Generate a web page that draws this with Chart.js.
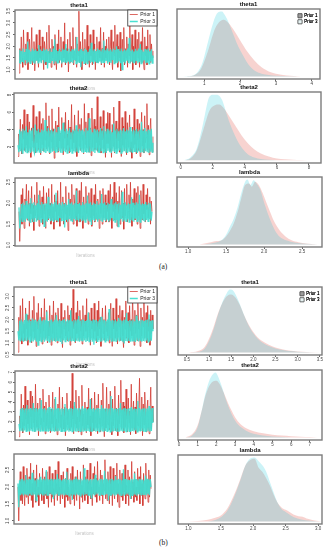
<!DOCTYPE html>
<html>
<head>
<meta charset="utf-8">
<script src="https://cdn.jsdelivr.net/npm/chart.js@4.4.0/dist/chart.umd.min.js"></script>
<style>
html, body { margin: 0; padding: 0; background: #fff; }
#fig { position: relative; width: 327px; height: 550px; overflow: hidden; }
#fig canvas { position: absolute; }
.cap { position: absolute; font: 7.5px "Liberation Serif", serif; color: #222; }
</style>
</head>
<body>
<div id="fig">
	<div class="cap" style="left:159px;top:262px">(a)</div>
	<div class="cap" style="left:159px;top:538px">(b)</div>
</div>
<script>
// ---- trace values (a) ----
const aTheta1P1 = [0.85,1.9,1.3,2.4,1.5,1.1,2.7,1.6,1.2,2.1,1.4,2.6,1.0,1.8,2.3,1.3,1.7,2.8,1.2,1.5,2.2,0.95,1.6,2.5,1.4,1.9,1.1,2.7,1.5,2.0,1.3,2.4,1.6,1.0,2.2,1.8,1.2,2.6,1.4,1.7,
	2.9,1.3,1.9,1.1,2.3,1.5,2.0,1.2,2.5,1.6,1.0,2.1,1.4,2.7,1.3,1.8,2.4,1.1,1.6,2.2,1.5,3.0,1.2,1.9,1.4,2.3,0.9,1.7,2.6,1.3,2.0,1.5,2.8,1.2,1.8,1.4,2.4,1.1,2.1,1.6,
	3.5,1.3,2.2,1.5,1.0,2.6,1.4,1.9,2.3,1.2,1.7,2.9,1.3,2.0,1.1,2.5,1.6,1.9,1.2,2.7,1.4,2.1,1.0,1.8,2.4,1.3,1.6,2.2,1.5,2.8,1.2,1.9,1.4,2.6,1.1,2.0,1.5,2.3,1.3,1.7,
	2.4,1.2,1.9,2.7,1.4,1.0,2.2,1.6,2.9,1.3,1.8,2.5,1.1,2.0,1.5,2.6,0.95,1.7,2.3,1.4,
	2.8,1.2,1.9,1.5,2.4,1.1,2.1,1.6,3.1,1.3,1.8,2.5,1.0,2.0,1.4,2.7,1.2,1.7,2.3,1.5,
	2.6,1.1,1.9,2.2,1.3,2.8,1.5,1.0,2.4,1.6,2.0,1.2,2.7,1.4,1.8,2.5,1.3,2.1,1.5,1.8];
const aTheta1P3 = [1.3,1.85,1.25,1.8,1.35,1.9,1.28,1.75,1.4,1.88,1.26,2.2,1.32,1.85,1.27,1.78,1.36,1.9,1.3,1.82,
	1.25,1.87,1.38,1.8,1.29,2.05,1.34,1.86,1.27,1.79,1.4,1.9,1.26,1.83,1.33,1.88,1.05,1.8,1.31,1.89,
	1.28,1.76,1.37,1.9,1.25,2.3,1.35,1.84,1.29,1.8,1.27,1.88,1.39,1.77,1.26,1.9,1.32,1.85,1.3,2.1,
	1.27,1.81,1.36,1.89,1.25,1.78,1.33,1.87,1.28,1.83,1.4,1.9,1.26,2.4,1.31,1.8,1.29,1.86,1.1,1.88,
	1.35,1.79,1.27,1.9,1.3,1.84,1.26,1.76,1.38,1.89,1.28,2.15,1.33,1.82,1.25,1.87,1.36,1.8,1.29,1.9,
	1.27,1.85,1.34,1.78,1.26,1.88,1.31,2.25,1.28,1.83,1.37,1.9,1.25,1.8,1.32,1.86,1.29,1.77,1.4,1.89,
	1.26,1.84,1.3,2.0,1.27,1.88,1.35,1.81,1.28,1.9,1.0,1.79,1.33,1.87,1.26,1.83,1.38,1.9,1.29,2.35,
	1.25,1.8,1.34,1.86,1.3,1.78,1.27,1.89,1.36,1.82,1.28,1.9,1.32,2.1,1.26,1.85,1.31,1.77,1.39,1.88,
	1.27,1.84,1.3,1.9,1.25,1.79,1.35,1.87,1.28,1.6];
const aTheta2P1 = [0.9,3.5,1.8,5.2,2.4,1.2,4.6,2.9,6.3,1.6,3.8,2.2,5.8,1.4,3.1,4.9,2.0,0.8,4.2,2.7,6.8,1.9,3.4,1.3,5.5,2.5,4.0,1.7,6.1,3.0,1.1,4.7,2.3,5.3,1.5,3.7,2.8,7.1,1.8,4.4,
	2.1,5.6,1.2,3.9,2.6,6.4,1.6,4.1,0.7,3.3,5.0,2.0,4.5,1.4,6.6,2.7,3.6,1.9,5.4,2.4,1.1,4.8,3.0,6.0,1.7,3.5,2.2,5.1,1.3,4.3,
	2.9,6.9,1.8,3.8,2.5,5.7,1.5,4.0,0.9,3.2,6.2,2.1,4.6,1.6,5.3,2.8,3.4,1.2,7.0,2.3,4.9,1.9,3.7,5.9,1.4,2.6,4.2,1.0,6.5,2.0,
	3.3,5.2,1.7,4.4,2.5,7.8,1.5,3.9,2.2,5.5,1.3,4.1,2.8,6.2,1.8,3.6,0.8,4.7,2.4,6.0,
	2.4,5.9,1.5,3.8,0.8,4.6,2.1,6.6,1.3,3.2,5.0,1.8,4.1,2.7,7.3,1.4,3.6,0.9,5.4,2.2,
	4.4,1.6,6.1,2.9,1.1,4.8,2.0,3.5,5.7,1.4,2.6,0.7,4.3,1.9,6.4,2.3,3.9,1.2,5.2,2.8,
	1.6,4.7,0.9,3.4,6.0,2.1,4.0,1.3,5.6,2.5,3.1,7.0,1.7,4.5,1.1,3.7,5.3,2.0,1.4,3.2];
const aTheta2P3 = [2.2,1.4,4.0,1.5,3.8,1.3,4.1,1.6,3.9,1.4,4.4,1.35,3.7,1.5,4.0,1.3,3.9,1.45,4.2,1.6,
	1.3,4.6,1.4,3.9,1.5,4.1,1.35,3.7,1.3,4.0,1.55,3.9,1.4,5.1,1.3,3.8,1.5,4.2,1.4,3.9,
	1.3,4.0,1.45,3.8,1.6,4.1,1.3,3.7,1.4,4.3,1.5,3.9,1.35,4.0,1.3,4.8,1.5,3.8,1.4,4.1,
	1.3,3.9,1.55,4.2,1.4,3.7,1.3,4.0,1.5,3.9,1.35,4.5,1.45,3.8,1.3,4.1,1.6,3.9,1.4,4.0,
	1.3,3.8,1.5,4.2,1.35,3.9,1.4,5.3,1.3,4.0,1.5,3.7,1.45,4.1,1.3,3.9,1.6,4.0,1.4,3.8,
	1.3,4.2,1.5,3.9,1.35,4.4,1.4,3.8,1.3,4.1,1.55,3.9,1.4,4.0,1.3,3.7,1.5,4.7,1.4,3.9,
	1.3,4.1,1.45,3.8,1.6,4.0,1.3,3.9,1.4,4.2,1.5,3.8,1.35,4.0,1.3,3.9,1.45,4.3,1.4,3.8,
	1.3,4.0,1.5,3.9,1.4,4.1,1.3,3.8,1.55,4.0,1.35,4.9,1.4,3.9,1.3,4.2,1.5,3.8,1.4,4.0,
	1.3,3.9,1.45,4.1,1.4,2.5];
const aLambdaP1 = [1.8,1.09,1.6,2.2,1.5,2.35,1.7,1.4,2.1,1.9,2.45,1.6,1.8,2.3,1.45,2.0,1.75,2.4,1.55,1.95,1.35,2.2,1.7,1.85,2.5,1.6,2.05,1.45,2.3,1.8,1.65,2.15,1.5,2.4,1.75,1.95,1.4,2.25,1.85,1.6,
	2.35,1.7,2.0,1.5,2.45,1.65,1.9,1.38,2.2,1.8,2.05,1.55,2.3,1.7,1.95,1.45,2.5,1.6,1.85,2.15,1.5,2.0,1.75,2.4,1.55,1.9,1.35,2.25,1.7,2.1,
	1.6,2.45,1.8,1.5,2.2,1.95,1.65,2.35,1.45,2.0,1.75,2.3,1.55,1.85,2.5,1.7,1.4,2.15,1.9,1.6,2.4,1.75,2.05,1.5,2.25,1.8,1.65,2.35,1.45,1.95,
	1.7,2.2,1.55,2.45,1.8,1.6,2.1,1.9,1.4,2.3,1.75,2.0,1.5,2.35,1.65,1.85,2.2,1.55,2.0,1.8,
	2.3,1.55,1.95,2.45,1.65,1.4,2.15,1.8,2.5,1.6,1.9,2.25,1.45,2.05,1.75,2.4,1.5,1.85,2.3,1.65,
	2.0,1.38,2.35,1.7,1.95,2.45,1.55,1.8,2.2,1.6,2.5,1.75,1.45,2.1,1.9,2.35,1.6,1.85,2.25,1.5,
	2.4,1.7,2.0,1.4,2.3,1.8,1.6,2.45,1.75,1.95,1.55,2.2,1.85,2.35,1.65,1.9,2.15,1.5,2.05,1.8];
const aLambdaP3 = [1.9,1.4,1.62,1.98,1.57,2.01,1.6,1.96,1.56,2.05,1.63,1.97,1.58,2.0,1.55,2.12,1.61,1.99,1.57,2.02,
	1.64,1.95,1.56,2.0,1.59,2.2,1.6,1.97,1.55,2.03,1.62,1.98,1.45,2.0,1.58,1.99,1.56,2.15,1.63,1.96,
	1.57,2.01,1.6,1.98,1.55,2.02,1.61,2.25,1.58,1.97,1.56,2.0,1.64,1.95,1.57,2.03,1.59,1.98,1.42,2.01,
	1.6,1.96,1.56,2.1,1.62,1.99,1.57,2.02,1.55,1.97,1.63,2.0,1.58,2.3,1.6,1.98,1.56,2.01,1.61,1.95,
	1.57,2.03,1.59,1.97,1.55,2.0,1.62,2.18,1.58,1.99,1.56,2.02,1.48,1.96,1.6,2.01,1.57,1.98,1.63,2.05,
	1.56,1.97,1.61,2.0,1.58,2.22,1.55,1.99,1.6,2.02,1.57,1.96,1.62,2.01,1.56,1.98,1.59,2.1,1.64,1.97,
	1.57,2.0,1.55,2.03,1.6,1.98,1.44,2.01,1.58,1.96,1.62,2.27,1.56,1.99,1.59,2.02,1.57,1.97,1.61,2.0,
	1.55,1.98,1.6,2.14,1.58,2.01,1.56,1.96,1.63,2.02,1.57,1.99,1.59,2.2,1.55,1.97,1.61,2.0,1.58,1.98,
	1.56,2.03,1.6,1.97,1.57,2.01,1.62,1.99,1.58,1.8];

// ---- trace values (b) ----
const bTheta1P1 = [0.6,2.1,1.3,2.6,1.5,0.95,2.9,1.4,1.8,1.1,2.5,1.6,2.2,0.9,1.7,2.8,1.3,2.0,1.0,2.4,1.5,3.0,1.2,1.9,0.85,2.3,1.6,2.7,1.1,1.8,1.4,2.5,0.95,2.1,1.5,2.9,1.2,1.7,2.4,1.0,
	1.9,1.3,2.6,1.6,0.9,2.2,1.4,2.8,1.1,1.8,2.3,1.5,1.0,2.5,1.7,2.0,1.2,2.7,1.4,0.8,2.1,1.6,2.4,1.3,1.9,1.1,2.6,1.5,2.2,0.9,
	1.8,2.5,1.2,3.3,1.6,2.0,1.0,2.3,1.4,2.8,1.7,1.1,2.4,1.5,2.0,0.95,2.6,1.3,1.8,2.2,1.5,2.9,1.1,1.7,2.3,1.4,0.9,2.5,1.6,2.0,
	1.2,2.7,1.5,1.9,1.0,2.4,1.3,2.8,1.6,2.1,0.85,1.8,2.5,1.4,2.0,1.1,2.6,1.5,1.9,1.3,
	2.3,1.0,1.8,2.7,1.4,0.85,2.5,1.6,2.0,1.2,2.9,1.5,0.95,2.2,1.7,2.6,1.1,1.9,2.4,1.3,
	0.8,2.1,1.6,2.8,1.2,1.8,2.3,1.0,2.6,1.5,2.0,1.3,3.0,1.7,0.9,2.4,1.4,2.2,1.1,2.7,
	1.6,1.9,0.85,2.5,1.3,2.1,1.7,2.8,1.2,1.8,2.3,1.0,2.6,1.5,2.0,0.9,2.4,1.4,2.2,1.6];
const bTheta1P3 = [1.5,1.1,1.95,1.06,2.0,1.12,1.92,1.05,1.98,1.1,2.25,1.07,1.96,1.13,2.0,1.04,1.94,1.09,2.05,1.06,
	1.97,1.11,2.0,1.05,1.93,0.9,1.99,1.08,2.1,1.06,1.95,1.12,2.0,1.05,1.97,1.1,2.35,1.07,1.94,1.04,
	1.98,1.13,2.0,1.06,1.92,1.09,1.99,1.05,2.2,1.11,1.96,1.07,2.0,1.04,1.95,0.95,1.98,1.1,2.02,1.06,
	1.94,1.12,2.0,1.05,1.97,1.08,2.4,1.06,1.93,1.11,1.99,1.04,1.96,1.09,2.0,1.07,2.15,1.05,1.95,1.12,
	1.98,1.06,2.0,1.1,1.94,1.04,1.97,1.08,2.3,1.06,1.99,1.13,1.95,1.05,2.0,0.92,1.96,1.09,1.98,1.07,
	1.93,1.11,2.0,1.05,2.12,1.06,1.97,1.1,1.99,1.04,1.95,1.08,2.0,1.06,2.45,1.12,1.94,1.05,1.98,1.09,
	1.96,1.07,2.0,1.04,1.93,1.1,2.08,1.06,1.99,1.12,1.95,1.05,1.97,0.98,2.0,1.08,2.28,1.06,1.94,1.11,
	1.98,1.05,1.96,1.09,2.0,1.07,1.93,1.04,2.18,1.1,1.99,1.06,1.95,1.12,2.0,1.05,1.97,1.08,1.94,1.06,
	1.98,1.1,2.0,1.05,2.22,1.07,1.95,1.09,1.97,1.5];
const bTheta2P1 = [0.5,2.6,1.4,4.8,2.0,0.9,3.7,1.6,5.6,2.3,1.1,4.2,1.8,3.0,0.7,5.1,2.5,1.3,4.6,1.9,3.4,1.0,5.8,2.2,1.5,3.9,0.6,2.8,4.4,1.7,2.4,1.2,5.3,2.0,3.6,0.8,4.0,1.6,2.9,1.3,
	4.7,2.1,0.9,3.3,1.8,5.0,1.4,2.6,4.3,1.1,2.3,0.7,3.8,1.9,5.5,1.5,2.7,1.0,4.5,2.2,1.3,3.5,0.6,2.4,4.9,1.7,3.1,1.2,2.0,4.1,
	1.5,6.9,2.3,0.8,3.6,1.8,5.2,1.4,2.5,1.0,4.6,2.0,3.2,0.7,5.7,1.6,2.8,1.2,4.0,2.1,0.9,3.5,1.7,5.4,1.3,2.6,0.6,4.4,1.9,3.0,
	1.1,5.0,2.2,1.5,3.7,0.8,4.8,1.8,2.4,1.0,4.2,1.6,5.9,2.0,0.5,3.3,1.4,5.5,2.1,1.7,
	3.8,1.2,5.1,2.0,0.7,4.3,1.6,2.9,5.6,1.1,3.4,2.2,0.6,4.7,1.8,3.0,6.2,1.3,2.5,4.0,
	0.9,3.6,1.5,5.3,2.3,1.0,4.4,1.9,3.1,0.7,5.8,1.4,2.7,4.1,1.2,3.5,0.8,4.9,2.1,1.6,
	3.2,6.4,1.1,2.6,4.5,0.6,3.8,1.7,5.0,2.4,1.0,3.3,4.2,1.5,0.8,2.8,5.5,1.3,3.6,2.0];
const bTheta2P3 = [1.8,1.05,3.3,1.1,3.4,1.0,3.2,1.12,3.35,1.04,3.7,1.08,3.3,1.0,3.4,1.1,3.25,1.03,3.9,1.07,
	3.35,1.0,3.4,1.12,3.28,1.05,3.38,1.0,4.2,1.09,3.3,1.02,3.4,1.1,3.22,1.04,3.36,1.0,3.5,1.08,
	3.3,1.03,3.4,1.11,3.25,1.0,4.5,1.06,3.35,1.02,3.4,1.1,3.28,1.04,3.38,1.0,3.3,1.08,3.8,1.03,
	3.4,1.12,3.26,1.0,3.35,1.06,3.4,1.02,3.3,1.1,4.0,1.04,3.38,1.0,3.25,1.08,3.4,1.03,3.32,1.11,
	3.6,1.0,3.35,1.05,3.4,1.02,3.28,1.09,3.38,1.0,4.3,1.06,3.3,1.03,3.4,1.1,3.25,1.0,3.36,1.07,
	3.4,1.02,3.3,1.12,3.7,1.04,3.38,1.0,3.26,1.08,3.4,1.03,3.32,1.1,3.35,1.0,4.6,1.05,3.4,1.02,
	3.28,1.09,3.38,1.0,3.3,1.06,3.4,1.03,3.9,1.11,3.25,1.0,3.36,1.07,3.4,1.02,3.3,1.1,3.35,1.04,
	3.4,1.0,3.5,1.08,3.28,1.03,3.38,1.12,3.3,1.0,4.1,1.06,3.4,1.02,3.26,1.09,3.35,1.0,3.4,1.05,
	3.3,1.03,3.38,1.1,3.6,1.0,3.32,1.07,3.4,1.9];
const bLambdaP1 = [2.0,1.0,1.8,2.45,1.6,2.2,1.5,2.6,1.85,1.45,2.35,1.7,2.55,1.9,1.5,2.3,1.75,2.7,1.6,2.1,1.4,2.5,1.85,2.25,1.55,2.65,1.7,2.0,1.45,2.4,1.8,2.15,1.6,2.55,1.9,1.5,2.3,1.75,2.45,1.65,
	2.05,1.4,2.6,1.8,2.2,1.55,2.4,1.7,1.95,1.45,2.5,1.85,2.1,1.6,2.75,1.75,2.0,1.5,2.35,1.8,1.65,2.45,1.9,1.4,2.25,1.7,2.55,1.6,2.0,1.85,
	1.5,2.4,1.75,2.6,1.65,2.1,1.45,2.3,1.9,1.6,2.5,1.8,2.2,1.35,2.45,1.7,2.05,1.55,2.65,1.85,1.6,2.3,1.75,2.5,1.5,2.15,1.9,2.7,1.65,2.0,
	1.45,2.4,1.8,2.6,1.7,2.25,1.55,2.75,1.85,2.0,1.6,2.5,1.75,2.35,1.5,2.1,1.9,2.8,1.65,2.2,
	1.6,2.45,1.85,1.5,2.6,1.75,2.2,1.45,2.55,1.9,1.65,2.35,1.8,2.7,1.55,2.1,1.4,2.5,1.95,1.7,
	2.4,1.6,2.25,1.85,2.65,1.5,2.05,1.75,2.5,1.45,2.3,1.9,1.65,2.75,1.8,2.15,1.55,2.45,1.7,2.0,
	1.6,2.55,1.85,2.3,1.5,2.6,1.75,2.1,1.45,2.4,1.9,1.65,2.7,1.8,2.2,1.55,2.5,1.7,2.35,1.95];
const bLambdaP3 = [2.1,1.4,2.2,1.76,2.23,1.78,2.24,1.75,2.2,1.8,2.35,1.77,2.22,1.74,2.24,1.79,2.21,1.76,2.42,1.75,
	2.23,1.78,2.2,1.6,2.24,1.77,2.22,1.75,2.3,1.79,2.21,1.76,2.24,1.74,2.2,1.78,2.5,1.76,2.23,1.75,
	2.22,1.8,2.24,1.77,2.2,1.65,2.23,1.75,2.21,1.79,2.38,1.76,2.24,1.74,2.22,1.78,2.2,1.77,2.24,1.75,
	2.23,1.79,2.45,1.76,2.21,1.74,2.24,1.78,2.2,1.62,2.22,1.77,2.24,1.75,2.3,1.8,2.23,1.76,2.21,1.74,
	2.24,1.78,2.2,1.75,2.55,1.77,2.22,1.79,2.24,1.76,2.2,1.74,2.23,1.68,2.21,1.78,2.24,1.75,2.36,1.77,
	2.22,1.8,2.2,1.76,2.24,1.74,2.23,1.78,2.21,1.75,2.48,1.77,2.24,1.79,2.2,1.6,2.22,1.76,2.24,1.75,
	2.23,1.78,2.2,1.74,2.32,1.77,2.21,1.79,2.24,1.76,2.22,1.75,2.2,1.78,2.52,1.74,2.23,1.77,2.24,1.8,
	2.21,1.76,2.2,1.65,2.24,1.75,2.22,1.78,2.4,1.77,2.23,1.74,2.2,1.79,2.24,1.76,2.21,1.75,2.22,1.78,
	2.2,1.77,2.34,1.75,2.24,1.79,2.21,1.76,2.23,2.0];

// ---- density curves [value, density] ----
const aTheta1Dens1 = [[0.5,0],[0.7,0.02],[0.9,0.15],[1.1,0.55],[1.3,1.05],[1.45,1.22],[1.55,1.25],[1.65,1.2],[1.8,1.05],[2.0,0.8],[2.2,0.55],[2.4,0.35],[2.6,0.2],[2.8,0.11],[3.0,0.06],[3.3,0.02],[3.7,0]];
const aTheta1Dens3 = [[0.4,0],[0.6,0.01],[0.8,0.08],[0.95,0.3],[1.1,0.75],[1.2,1.05],[1.3,1.3],[1.4,1.42],[1.5,1.43],[1.55,1.38],[1.6,1.32],[1.7,1.15],[1.8,0.95],[1.9,0.75],[2.0,0.58],[2.1,0.44],[2.2,0.3],[2.3,0.2],[2.4,0.13],[2.6,0.06],[2.8,0.03],[3.0,0.015],[3.4,0.005],[3.6,0]];
const aTheta2Dens1 = [[0.2,0],[0.6,0.02],[1.0,0.1],[1.4,0.3],[1.8,0.5],[2.1,0.55],[2.4,0.56],[2.7,0.52],[3.0,0.45],[3.4,0.35],[3.8,0.25],[4.2,0.17],[4.6,0.11],[5.0,0.07],[5.5,0.04],[6.0,0.02],[6.5,0.012],[7.0,0.006],[7.5,0.003],[8.3,0]];
const aTheta2Dens3 = [[0.2,0],[0.6,0.03],[1.0,0.12],[1.3,0.3],[1.5,0.45],[1.7,0.6],[1.8,0.64],[2.0,0.66],[2.2,0.66],[2.4,0.65],[2.6,0.6],[2.8,0.5],[3.0,0.4],[3.3,0.28],[3.6,0.18],[3.9,0.11],[4.2,0.06],[4.6,0.03],[5.0,0.015],[5.5,0.005],[6.0,0]];
const aLambdaDens1 = [[1.15,0],[1.25,0.04],[1.35,0.1],[1.45,0.14],[1.5,0.25],[1.55,0.42],[1.6,0.65],[1.65,1.0],[1.7,1.45],[1.75,1.85],[1.8,1.9],[1.84,1.8],[1.88,1.95],[1.93,1.85],[1.98,1.6],[2.03,1.3],[2.08,1.0],[2.13,0.72],[2.2,0.45],[2.28,0.25],[2.36,0.13],[2.45,0.07],[2.55,0.03],[2.7,0]];
const aLambdaDens3 = [[1.2,0],[1.3,0.03],[1.4,0.08],[1.45,0.15],[1.5,0.3],[1.55,0.55],[1.6,0.8],[1.65,1.15],[1.7,1.6],[1.75,1.95],[1.78,2.02],[1.82,1.85],[1.86,2.0],[1.9,1.9],[1.95,1.7],[2.0,1.3],[2.05,0.95],[2.1,0.65],[2.15,0.4],[2.2,0.25],[2.3,0.12],[2.4,0.06],[2.5,0.03],[2.6,0.01],[2.7,0]];
const bTheta1Dens1 = [[0.55,0],[0.75,0.03],[0.9,0.12],[1.0,0.3],[1.1,0.55],[1.2,0.85],[1.3,1.08],[1.4,1.23],[1.5,1.27],[1.6,1.2],[1.7,1.03],[1.8,0.8],[1.9,0.6],[2.0,0.45],[2.1,0.33],[2.2,0.25],[2.35,0.17],[2.5,0.11],[2.7,0.06],[2.9,0.035],[3.1,0.018],[3.5,0]];
const bTheta1Dens3 = [[0.6,0],[0.8,0.02],[0.9,0.08],[1.0,0.25],[1.1,0.5],[1.2,0.82],[1.3,1.1],[1.4,1.3],[1.47,1.38],[1.53,1.37],[1.6,1.27],[1.7,1.05],[1.8,0.8],[1.9,0.58],[2.0,0.42],[2.1,0.3],[2.2,0.22],[2.35,0.14],[2.5,0.09],[2.7,0.05],[2.9,0.025],[3.1,0.01],[3.4,0]];
const bTheta2Dens1 = [[0.35,0],[0.7,0.03],[1.0,0.12],[1.2,0.25],[1.4,0.4],[1.6,0.5],[1.8,0.55],[2.0,0.56],[2.2,0.52],[2.4,0.44],[2.6,0.35],[2.8,0.27],[3.0,0.2],[3.3,0.13],[3.6,0.09],[4.0,0.06],[4.5,0.04],[5.0,0.027],[5.5,0.018],[6.0,0.012],[6.5,0.007],[7.0,0.004],[7.4,0]];
const bTheta2Dens3 = [[0.4,0],[0.7,0.02],[1.0,0.1],[1.2,0.25],[1.4,0.42],[1.6,0.55],[1.8,0.62],[1.95,0.64],[2.1,0.6],[2.3,0.5],[2.5,0.38],[2.7,0.28],[2.9,0.2],[3.1,0.14],[3.4,0.09],[3.7,0.055],[4.0,0.035],[4.5,0.018],[5.0,0.01],[5.5,0.004],[6.0,0]];
const bLambdaDens1 = [[1.0,0],[1.15,0.01],[1.3,0.04],[1.4,0.08],[1.5,0.14],[1.6,0.3],[1.7,0.6],[1.8,0.98],[1.88,1.3],[1.95,1.42],[2.02,1.45],[2.08,1.25],[2.14,1.15],[2.2,1.0],[2.26,0.82],[2.32,0.6],[2.38,0.42],[2.44,0.32],[2.5,0.27],[2.56,0.22],[2.62,0.16],[2.7,0.12],[2.76,0.11],[2.84,0.06],[2.95,0.02],[3.05,0]];
const bLambdaDens3 = [[1.3,0],[1.4,0.03],[1.5,0.1],[1.6,0.25],[1.7,0.55],[1.8,0.95],[1.88,1.3],[1.95,1.45],[2.02,1.48],[2.08,1.4],[2.14,1.3],[2.2,1.15],[2.26,0.9],[2.32,0.65],[2.38,0.42],[2.44,0.28],[2.5,0.22],[2.58,0.14],[2.66,0.08],[2.76,0.04],[2.85,0.02],[3.0,0]];

// ---- tick labels ----
const aTheta1TraceTicks = [1.0, 1.5, 2.0, 2.5, 3.0, 3.5];
const aTheta2TraceTicks = [2, 4, 6, 8];
const aLambdaTraceTicks = [1.0, 1.5, 2.0, 2.5];
const bTheta1TraceTicks = [0.5, 1.0, 1.5, 2.0, 2.5, 3.0];
const bTheta2TraceTicks = [1, 2, 3, 4, 5, 6, 7];
const bLambdaTraceTicks = [1.0, 1.5, 2.0, 2.5];
const aTheta1DensTicks = [1, 2, 3, 4];
const aTheta2DensTicks = [0, 2, 4, 6, 8];
const aLambdaDensTicks = [1.0, 1.5, 2.0, 2.5];
const bTheta1DensTicks = [0.5, 1.0, 1.5, 2.0, 2.5, 3.0, 3.5];
const bTheta2DensTicks = [0, 1, 2, 3, 4, 5, 6, 7];
const bLambdaDensTicks = [1.0, 1.5, 2.0, 2.5, 3.0];

const seriesNames = ['Prior 1', 'Prior 3'];

Chart.defaults.font.family = '"Liberation Sans", Arial, sans-serif';
Chart.defaults.color = '#333';
Chart.defaults.animation = false;

const RED = 'rgba(208,52,44,0.88)';
const CYAN = 'rgba(64,222,208,0.95)';
const PINK_FILL = 'rgba(230,110,100,0.3)';
const CYAN_FILL = 'rgba(0,195,215,0.2)';
const fig = document.getElementById('fig');

const boxPlugin = {
	id: 'box',
	afterDatasetsDraw(chart) {
		const a = chart.chartArea, ctx = chart.ctx;
		ctx.save();
		ctx.strokeStyle = '#7c7c7c';
		ctx.lineWidth = 1.4;
		ctx.strokeRect(a.left, a.top, a.right - a.left, a.bottom - a.top);
		ctx.restore();
	}
};

// moves the chartArea legend to the top right corner, optionally framed
const legendCorner = (framed, dx, dy) => ({
	id: 'legendCorner',
	afterLayout(chart) {
		const lg = chart.legend;
		const pad = lg.options.labels.padding;
		lg.left = chart.chartArea.right - lg.columnSizes[0].width - 2 * pad - dx;
		lg.top = chart.chartArea.top + dy;
	},
	afterDraw(chart) {
		const lg = chart.legend, ctx = chart.ctx;
		const pad = lg.options.labels.padding;
		if (framed) {
			const w = lg.columnSizes[0].width + 2 * pad, h = lg.columnSizes[0].height + pad;
			ctx.save();
			ctx.fillStyle = '#fff';
			ctx.fillRect(lg.left, lg.top, w, h);
			ctx.strokeStyle = '#333';
			ctx.lineWidth = 0.8;
			ctx.strokeRect(lg.left, lg.top, w, h);
			ctx.restore();
		}
		lg.draw();
	}
});

const makeCanvas = (left, top, w, h) => {
	const c = document.createElement('canvas');
	c.width = w; c.height = h;
	c.style.left = left + 'px'; c.style.top = top + 'px';
	c.style.width = w + 'px'; c.style.height = h + 'px';
	fig.appendChild(c);
	return c;
};

const tracePanel = p => {
	const padL = 14, padT = 8, padB = 12, padR = 2;
	const [L, T, R, B] = p.box;
	const c = makeCanvas(L - padL, T - padT, R - L + padL + padR, B - T + padT + padB);
	// position along the run, in percent of the iterations
	const pts = s => s.map((v, i) => ({ x: 100 * i / (s.length - 1), y: v }));
	new Chart(c, {
		type: 'line',
		data: {
			datasets: [
				{ label: seriesNames[0], data: pts(p.s1), borderColor: RED, borderWidth: 0.85, pointRadius: 0, order: 2 },
				{ label: seriesNames[1], data: pts(p.s3), borderColor: CYAN, borderWidth: 1.3, pointRadius: 0, order: 1 },
			]
		},
		options: {
			responsive: false,
			devicePixelRatio: 1,
			layout: { padding: { left: 0, right: padR, top: 0, bottom: 0 } },
			scales: {
				x: {
					type: 'linear',
					min: -3,
					max: 103,
					grid: { display: false },
					border: { display: false },
					ticks: { display: false },
					title: { display: true, text: 'Iterations', color: '#c4c4c4', font: { size: 4.5 }, padding: 0 },
					afterFit: s => { s.height = padB; },
				},
				y: {
					min: p.yr[0],
					max: p.yr[1],
					afterBuildTicks: s => { s.ticks = p.ticks.map(v => ({ value: v })); },
					grid: { drawOnChartArea: false, tickLength: 2, color: '#666' },
					border: { display: false },
					ticks: {
						font: { size: 4.5 }, color: '#444', padding: 1,
						minRotation: 90, maxRotation: 90, crossAlign: 'center',
						callback: v => v.toFixed(p.dec),
					},
					afterFit: s => { s.width = padL; },
				}
			},
			plugins: {
				title: { display: true, text: p.title, color: '#111', font: { size: 6, weight: 'bold', lineHeight: 1 }, padding: { top: 0, bottom: 2 } },
				legend: p.legend ? {
					display: true,
					position: 'chartArea',
					align: 'start',
					labels: {
						usePointStyle: true, pointStyle: 'line', pointStyleWidth: 8, boxWidth: 12, boxHeight: 5,
						padding: 2, color: '#222', font: { size: 5 },
						sort: (a, b) => a.datasetIndex - b.datasetIndex,
					}
				} : { display: false },
				tooltip: { enabled: false },
			}
		},
		plugins: p.legend ? [boxPlugin, legendCorner(true, 0, 0)] : [boxPlugin],
	});
};

const densPanel = p => {
	const padL = 2, padT = 8, padB = 9, padR = 3;
	const [L, T, R, B] = p.box;
	const c = makeCanvas(L - padL, T - padT, R - L + padL + padR, B - T + padT + padB);
	const top = Math.max(...p.d1.map(d => d[1]), ...p.d3.map(d => d[1]));
	const pts = s => s.map(([x, y]) => ({ x, y }));
	new Chart(c, {
		type: 'line',
		data: {
			datasets: [
				{ label: seriesNames[0], data: pts(p.d1), fill: 'origin', backgroundColor: PINK_FILL, borderWidth: 0, pointRadius: 0, cubicInterpolationMode: 'monotone', order: 2 },
				{ label: seriesNames[1], data: pts(p.d3), fill: 'origin', backgroundColor: CYAN_FILL, borderWidth: 0, pointRadius: 0, cubicInterpolationMode: 'monotone', order: 1 },
			]
		},
		options: {
			responsive: false,
			devicePixelRatio: 1,
			layout: { padding: { left: padL, right: padR, top: 0, bottom: 0 } },
			scales: {
				x: {
					type: 'linear',
					min: p.xr[0],
					max: p.xr[1],
					afterBuildTicks: s => { s.ticks = p.ticks.map(v => ({ value: v })); },
					grid: { drawOnChartArea: false, tickLength: 2, color: '#666' },
					border: { display: false },
					ticks: { font: { size: 4.5 }, color: '#444', padding: 0, maxRotation: 0, autoSkip: false, callback: v => v.toFixed(p.dec) },
					afterFit: s => { s.height = padB; },
				},
				y: { display: false, min: -0.04 * top, max: 1.04 * top }
			},
			plugins: {
				title: { display: true, text: p.title, color: '#111', font: { size: 6, weight: 'bold', lineHeight: 1 }, padding: { top: 0, bottom: 2 } },
				legend: p.legend ? {
					display: true,
					position: 'chartArea',
					align: 'start',
					labels: {
						boxWidth: 4, boxHeight: 4, padding: 1.5, color: '#222', font: { size: 4.5 },
						generateLabels: chart => chart.data.datasets.map((ds, i) => ({
							text: ds.label, datasetIndex: i,
							fillStyle: i === 0 ? '#9c9c9c' : '#e6f2f2',
							strokeStyle: '#444', lineWidth: 0.6,
						})),
					}
				} : { display: false },
				tooltip: { enabled: false },
			}
		},
		plugins: p.legend ? [boxPlugin, legendCorner(false, 1, 3)] : [boxPlugin],
	});
};

tracePanel({ title: 'theta1', box: [15, 10, 157, 79], s1: aTheta1P1, s3: aTheta1P3, yr: [0.6, 3.55], ticks: aTheta1TraceTicks, dec: 1, legend: true });
tracePanel({ title: 'theta2', box: [14, 93, 157, 163], s1: aTheta2P1, s3: aTheta2P3, yr: [0.15, 8.23], ticks: aTheta2TraceTicks, dec: 0 });
tracePanel({ title: 'lambda', box: [15, 178, 156, 246], s1: aLambdaP1, s3: aLambdaP3, yr: [0.98, 2.6], ticks: aLambdaTraceTicks, dec: 1 });
tracePanel({ title: 'theta1', box: [14, 287, 157, 355], s1: bTheta1P1, s3: bTheta1P3, yr: [0.48, 3.4], ticks: bTheta1TraceTicks, dec: 1, legend: true });
tracePanel({ title: 'theta2', box: [15, 371, 157, 440], s1: bTheta2P1, s3: bTheta2P3, yr: [0.17, 7.13], ticks: bTheta2TraceTicks, dec: 0 });
tracePanel({ title: 'lambda', box: [14, 454, 155, 524], s1: bLambdaP1, s3: bLambdaP3, yr: [0.91, 2.97], ticks: bLambdaTraceTicks, dec: 1 });

densPanel({ title: 'theta1', box: [177, 9, 320, 79], d1: aTheta1Dens1, d3: aTheta1Dens3, xr: [0.24, 4.23], ticks: aTheta1DensTicks, dec: 0, legend: true });
densPanel({ title: 'theta2', box: [177, 92, 321, 163], d1: aTheta2Dens1, d3: aTheta2Dens3, xr: [-0.23, 8.75], ticks: aTheta2DensTicks, dec: 0 });
densPanel({ title: 'lambda', box: [177, 177, 322, 247], d1: aLambdaDens1, d3: aLambdaDens3, xr: [0.855, 2.76], ticks: aLambdaDensTicks, dec: 1 });
densPanel({ title: 'theta1', box: [178, 287, 322, 355], d1: bTheta1Dens1, d3: bTheta1Dens3, xr: [0.3, 3.55], ticks: bTheta1DensTicks, dec: 1, legend: true });
densPanel({ title: 'theta2', box: [178, 370, 322, 440], d1: bTheta2Dens1, d3: bTheta2Dens3, xr: [-0.05, 7.65], ticks: bTheta2DensTicks, dec: 0 });
densPanel({ title: 'lambda', box: [178, 455, 322, 524], d1: bLambdaDens1, d3: bLambdaDens3, xr: [0.84, 3.06], ticks: bLambdaDensTicks, dec: 1 });
</script>
</body>
</html>
